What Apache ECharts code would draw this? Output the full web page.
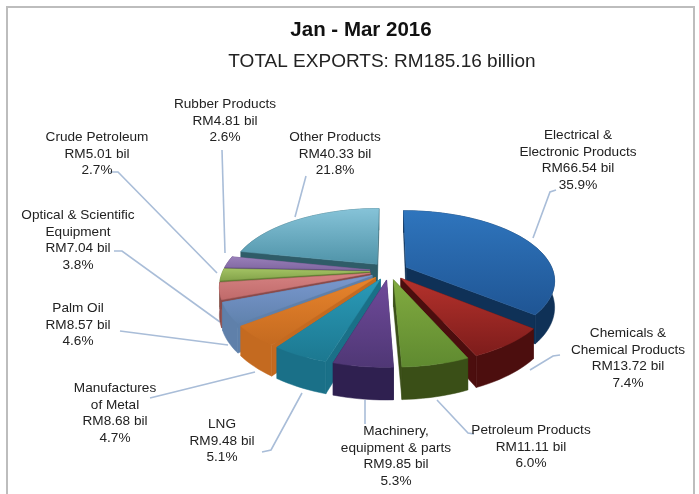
<!DOCTYPE html>
<html><head><meta charset="utf-8">
<style>html,body{margin:0;padding:0;background:#fff}#c{width:699px;height:494px;filter:blur(0.6px)}</style>
<script src="https://cdn.jsdelivr.net/npm/echarts@6/dist/echarts.min.js"></script>
</head><body><div id="c"></div>
<script>
const names = ['Electrical &\nElectronic Products','Chemicals &\nChemical Products','Petroleum Products','Machinery,\nequipment & parts','LNG','Manufactures\nof Metal','Palm Oil','Optical & Scientific\nEquipment','Crude Petroleum','Rubber Products','Other Products'];
const values = [66.54,13.72,11.11,9.85,9.48,8.68,8.57,7.04,5.01,4.81,40.33];
const percents = ['35.9%','7.4%','6.0%','5.3%','5.1%','4.7%','4.6%','3.8%','2.7%','2.6%','21.8%'];
const topColors = [['#2f75bd','#1f5594'],['#b5322c','#7d1c1b'],['#82ab40','#5f8a30'],['#6f4a9a','#4f3775'],['#2a9ab8','#1c7890'],['#e8842c','#c46a20'],['#7a98cf','#6082ad'],['#d58282','#c06a6a'],['#a3c263','#83a34a'],['#9a80ba','#7f66a0'],['#86c3d8','#4f93a8']];
const wallColors = ['#0f3157','#4c0e0e','#3a4f17','#2f2050','#1a7088','#c46a20','#5f80aa','#8a4a4a','#5f7a30','#5a4578','#2f5c68'];
const labelX = [578,628,531,396,222,115,78,78,97,225,335];
const labelY = [127,325,422,423,416,380,300,207,129,96,129];
const leaders = [
 [[533,238],[550,192],[556,190]],
 [[530,370],[553,356],[560,355]],
 [[437,400],[468,433],[474,434]],
 [[365,400],[365,424]],
 [[302,393],[271,450],[262,452]],
 [[255,372],[150,398]],
 [[228,345],[120,331]],
 [[220,322],[122,251],[114,251]],
 [[217,273],[118,172],[110,172]],
 [[225,253],[222,150]],
 [[295,217],[306,176]]
];
const cx=389, cy=271, A=68, B=147, P=0.18, EXPL=0.13, DEPTH=26;
const total = values.reduce((a,b)=>a+b,0);
const proj=(u,v,d)=>{const s=1/(1-P*v);return [cx+B*u*s, cy+A*v*s+(d?DEPTH*s:0)];};
function renderItem(params, api){
  const i=params.dataIndex;
  let cum=0; for(let k=0;k<i;k++) cum+=values[k];
  const a0=cum/total*2*Math.PI, a1=(cum+api.value(0))/total*2*Math.PI, m=(a0+a1)/2;
  const ox=EXPL*Math.sin(m), oy=-EXPL*Math.cos(m);
  const pt=(a,d)=>proj(ox+Math.sin(a),oy-Math.cos(a),d);
  const apex=d=>proj(ox,oy,d);
  const arc=[]; const n=Math.max(4,Math.ceil((a1-a0)/0.04));
  for(let k=0;k<=n;k++) arc.push(a0+(a1-a0)*k/n);
  const z=Math.round(-Math.cos(m)*100)*3+400;
  const wall=wallColors[i];
  const poly=(pts,fill,zz)=>({type:'polygon',shape:{points:pts},style:{fill,stroke:fill,lineWidth:0.5},z2:zz});
  const children=[];
  children.push(poly([apex(0),pt(a0,0),pt(a0,1),apex(1)],wall,z));
  children.push(poly([apex(0),pt(a1,0),pt(a1,1),apex(1)],wall,z));
  children.push(poly(arc.map(a=>pt(a,0)).concat(arc.slice().reverse().map(a=>pt(a,1))),wall,z+1));
  children.push(poly([apex(0)].concat(arc.map(a=>pt(a,0))),new echarts.graphic.LinearGradient(0,0,0,1,[{offset:0,color:topColors[i][0]},{offset:1,color:topColors[i][1]}]),z+2));
  children.push({type:'polyline',shape:{points:leaders[i]},style:{stroke:'#a9bdd8',lineWidth:1.6,fill:null},z2:1});
  const txt=names[i]+'\nRM'+values[i].toFixed(2)+' bil\n'+percents[i];
  children.push({type:'text',x:labelX[i],y:labelY[i],style:{text:txt,font:'13.6px "Liberation Sans"',fill:'#222',align:'center',verticalAlign:'top',lineHeight:16.6},z2:900});
  return {type:'group',children};
}
const chart=echarts.init(document.getElementById('c'),null,{renderer:'canvas'});
chart.setOption({
  animation:false,
  backgroundColor:'#fff',
  title:[
    {text:'Jan - Mar 2016',left:356,top:15,textAlign:'center',textStyle:{fontFamily:'Liberation Sans',fontSize:20.5,fontWeight:'bold',color:'#111'}},
    {text:'TOTAL EXPORTS: RM185.16 billion',left:377,top:47,textAlign:'center',textStyle:{fontFamily:'Liberation Sans',fontSize:19,fontWeight:'normal',color:'#222'}}
  ],
  graphic:[{type:'rect',shape:{x:7,y:7,width:687,height:495},style:{fill:null,stroke:'#bdbdbd',lineWidth:2},silent:true}],
  series:[{type:'custom',coordinateSystem:'none',silent:true,renderItem,data:values.map(v=>[v])}]
});
</script></body></html>
